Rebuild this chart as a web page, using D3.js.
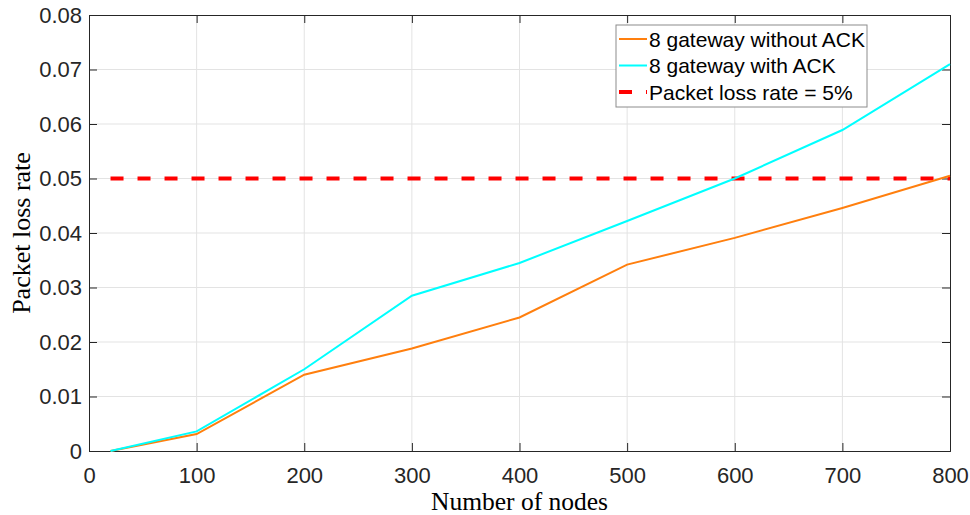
<!DOCTYPE html>
<html>
<head>
<meta charset="utf-8">
<script src="https://cdn.jsdelivr.net/npm/d3@7"></script>
<style>
  body { margin: 0; background: #fff; }
  svg { display: block; }
</style>
</head>
<body>
<svg id="chart" width="970" height="515"></svg>
<script>
// data
var nodes = [20, 100, 200, 300, 400, 500, 600, 700, 800];
var withoutAck = [0, 0.0031, 0.0140, 0.0188, 0.0245, 0.0342, 0.0391, 0.0446, 0.0505];
var withAck = [0, 0.0036, 0.0150, 0.0285, 0.0345, 0.0422, 0.0500, 0.0589, 0.0710];
var threshold = 0.05;
var xTicks = [0, 100, 200, 300, 400, 500, 600, 700, 800];
var yTicks = [0, 0.01, 0.02, 0.03, 0.04, 0.05, 0.06, 0.07, 0.08];
var legendLabels = ["8 gateway without ACK", "8 gateway with ACK", "Packet loss rate = 5%"];

var margin = { left: 89, top: 15, right: 20, bottom: 64 };
var width = 970 - margin.left - margin.right;
var height = 515 - margin.top - margin.bottom;

var svg = d3.select("#chart");
var g = svg.append("g").attr("transform", "translate(" + margin.left + "," + margin.top + ")");

var x = d3.scaleLinear().domain([0, 800]).range([0, width]);
var y = d3.scaleLinear().domain([0, 0.08]).range([height, 0]);

var axisColor = "#262626";
var tickFont = "Liberation Sans, Arial, sans-serif";

// grid
g.append("g").selectAll("line").data(xTicks.slice(1, -1)).enter().append("line")
    .attr("x1", function (d) { return x(d); }).attr("x2", function (d) { return x(d); })
    .attr("y1", 0).attr("y2", height)
    .attr("stroke", "#e3e3e3").attr("stroke-width", 1);
g.append("g").selectAll("line").data(yTicks.slice(1, -1)).enter().append("line")
    .attr("y1", function (d) { return y(d); }).attr("y2", function (d) { return y(d); })
    .attr("x1", 0).attr("x2", width)
    .attr("stroke", "#e3e3e3").attr("stroke-width", 1);

// axes (ticks pointing inward, on all four sides)
var fmtY = function (d) { return d === 0 ? "0" : d3.format(".2f")(d); };
var xAxis = g.append("g").attr("transform", "translate(0," + height + ")")
    .call(d3.axisBottom(x).tickValues(xTicks).tickSize(-8).tickPadding(16).tickFormat(d3.format("d")));
var yAxis = g.append("g")
    .call(d3.axisLeft(y).tickValues(yTicks).tickSize(-8).tickPadding(7).tickFormat(fmtY));
var xTop = g.append("g")
    .call(d3.axisTop(x).tickValues(xTicks).tickSize(-8).tickFormat(""));
var yRight = g.append("g").attr("transform", "translate(" + width + ",0)")
    .call(d3.axisRight(y).tickValues(yTicks).tickSize(-8).tickFormat(""));

[xAxis, yAxis, xTop, yRight].forEach(function (a) {
    a.select(".domain").attr("stroke", axisColor).attr("stroke-width", 1);
    a.selectAll(".tick line").attr("stroke", axisColor).attr("stroke-width", 1);
    a.selectAll(".tick text").attr("fill", axisColor)
        .style("font-family", tickFont).style("font-size", "22px");
});

// threshold line
g.append("line")
    .attr("x1", x(20)).attr("x2", x(800))
    .attr("y1", y(threshold)).attr("y2", y(threshold))
    .attr("stroke", "#ff0000").attr("stroke-width", 4)
    .attr("stroke-dasharray", "13,14");

// series
var line = d3.line()
    .x(function (d, i) { return x(nodes[i]); })
    .y(function (d) { return y(d); });

g.append("path").datum(withoutAck)
    .attr("d", line).attr("fill", "none")
    .attr("stroke", "#ff7f0e").attr("stroke-width", 2);
g.append("path").datum(withAck)
    .attr("d", line).attr("fill", "none")
    .attr("stroke", "#00ffff").attr("stroke-width", 2);

// axis titles
svg.append("text")
    .attr("x", margin.left + width / 2).attr("y", 510)
    .attr("text-anchor", "middle")
    .style("font-family", "Liberation Serif, Times New Roman, serif")
    .style("font-size", "25.5px").attr("fill", "#000")
    .text("Number of nodes");
svg.append("text")
    .attr("transform", "translate(30," + 233 + ") rotate(-90)")
    .attr("text-anchor", "middle")
    .style("font-family", "Liberation Serif, Times New Roman, serif")
    .style("font-size", "26px").attr("fill", "#000")
    .text("Packet loss rate");

// legend
var legend = svg.append("g").attr("transform", "translate(616,25)");
legend.append("rect")
    .attr("width", 251).attr("height", 82)
    .attr("fill", "#fff").attr("stroke", "#8c8c8c").attr("stroke-width", 1);
var legendColors = ["#ff7f0e", "#00ffff", "#ff0000"];
var rows = legend.selectAll("g.row").data(legendLabels).enter().append("g")
    .attr("class", "row")
    .attr("transform", function (d, i) { return "translate(0," + (14 + i * 26.5) + ")"; });
rows.append("line")
    .attr("x1", 3).attr("x2", 31)
    .attr("stroke", function (d, i) { return legendColors[i]; })
    .attr("stroke-width", function (d, i) { return i === 2 ? 4 : 2; })
    .attr("stroke-dasharray", function (d, i) { return i === 2 ? "13,14" : null; });
rows.append("text")
    .attr("x", 33).attr("y", 7.5)
    .style("font-family", tickFont).style("font-size", "21px")
    .attr("fill", "#000")
    .text(function (d) { return d; });
</script>
</body>
</html>
